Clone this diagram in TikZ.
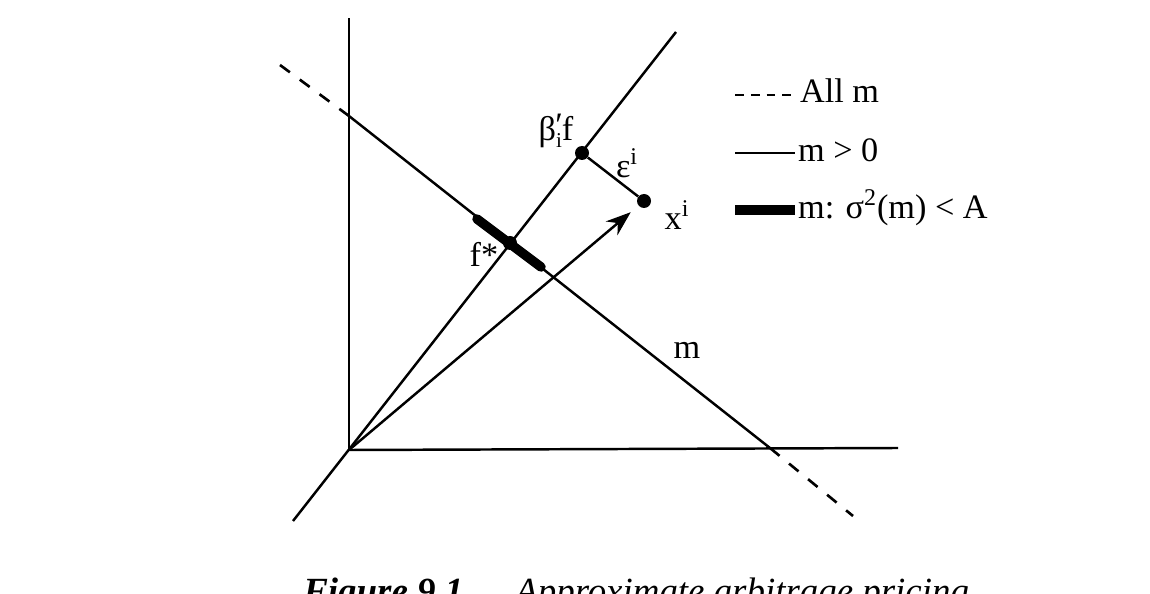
\documentclass[tikz,border=0pt]{standalone}
\usepackage{fontspec}
\setmainfont{Liberation Serif}
\usetikzlibrary{
  positioning,
  arrows.meta,
  calc
}

\begin{document}
\begin{tikzpicture}[
  x=0.02cm, y=-0.02cm,
  line/.style={line width=1.4pt},
  dashline/.style={line width=1.5pt, dash pattern=on 7pt off 7pt},
  thickline/.style={line width=5.4pt, line cap=round},
  vec/.style={-{Stealth[length=5mm, width=3.6mm]}, line width=1.4pt},
  dot/.style={circle, fill, inner sep=0pt, minimum size=0.28cm},
  lbl/.style={font=\fontsize{19.5}{22}\selectfont, inner sep=1pt}
]
  \useasboundingbox (0,0) rectangle (1150,594);
  \clip (0,0) rectangle (1150,594);

  % axes and the factor ray
  \coordinate (O) at (349,450);
  \coordinate (ytop) at (349,18);
  \coordinate (xend) at (898,448);
  \coordinate (raylow) at (293,521);
  \coordinate (raytop) at (676,32);
  \draw[line] (O) -- (ytop);
  \draw[line] (O) -- (xend);
  \draw[line] (raylow) -- (raytop);

  % the m line
  \coordinate (mtop) at (349,116);
  \coordinate (mbot) at (770,448);
  \coordinate (mtopend) at (280,65);
  \coordinate (mbotend) at (853,516);
  \draw[line] (mtop) -- (mbot);
  \draw[dashline] (mtopend) -- (mtop);
  \draw[dashline] (mbot) -- (mbotend);
  \coordinate (segA) at (477,219);
  \coordinate (segB) at (541,267);
  \draw[thickline] (segA) -- (segB);

  % points
  \node[dot] (fstar) at (510,243) {};
  \node[dot] (bf) at (582,153) {};
  \node[dot] (xi) at (644,201) {};
  \draw[line] (bf) -- (xi);
  \draw[vec, shorten >=0.2cm] (O) -- (xi);

  % labels
  \node[lbl] (bflbl) at (556,131) {β\rlap{\kern-0.02em\raisebox{0.12em}{′}}\raisebox{-0.2em}{\fontsize{12}{12}\selectfont i}f};
  \node[lbl] (epslbl) at (627,163) {ε\textsuperscript{i}};
  \node[lbl] (xilbl) at (677,215) {x\textsuperscript{i}};
  \node[lbl] (fstarlbl) at (484,254) {f*};
  \node[lbl] (mlbl) at (687,350) {m};

  % legend
  \coordinate (lgA1) at (735,95);  \coordinate (lgA2) at (795,95);
  \coordinate (lgB1) at (735,153); \coordinate (lgB2) at (795,153);
  \coordinate (lgC1) at (735,210); \coordinate (lgC2) at (795,210);
  \draw[dashline, dash pattern=on 5pt off 4pt] (lgA1) -- (lgA2);
  \draw[line] (lgB1) -- (lgB2);
  \draw[line width=5.4pt] (lgC1) -- (lgC2);
  \node[lbl, anchor=base west] (lgAtxt) at (798,103) {All m};
  \node[lbl, anchor=base west] (lgBtxt) at (796,162) {m > 0};
  \node[lbl, anchor=base west] (lgCtxt) at (796,219) {m: σ\textsuperscript{2}(m) < A};

  % caption
  \node[anchor=base west, inner sep=0pt, font=\fontsize{21}{24}\selectfont\bfseries\itshape]
    (fignum) at (303,603) {Figure 9.1};
  \node[anchor=base west, inner sep=0pt, font=\fontsize{21}{24}\selectfont\itshape]
    (figcap) at (515,603) {Approximate arbitrage pricing};
\end{tikzpicture}
\end{document}
